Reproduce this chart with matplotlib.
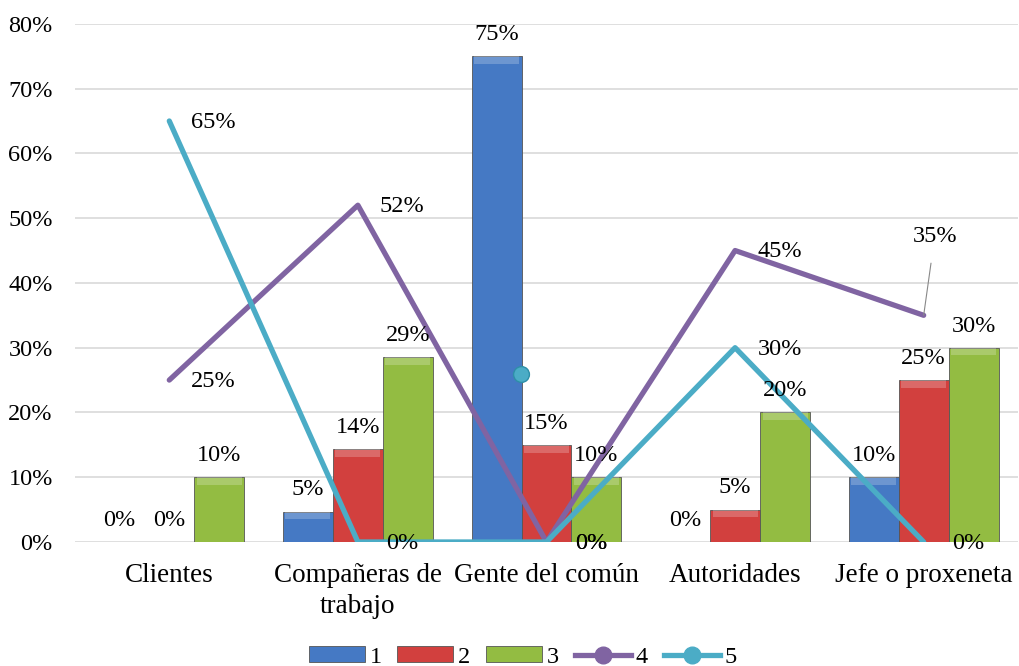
import matplotlib
matplotlib.use('Agg')
import matplotlib.pyplot as plt
from matplotlib.lines import Line2D
from matplotlib.patches import Patch

plt.rcParams['font.family'] = ['Liberation Serif', 'DejaVu Serif']

categories = ['Clientes', 'Compañeras de\ntrabajo', 'Gente del común', 'Autoridades', 'Jefe o proxeneta']
s1 = [0, 4.7, 75, 0, 10]
s2 = [0, 14.3, 15, 5, 25]
s3 = [10, 28.6, 10, 20, 30]
s4 = [25, 52, 0, 45, 35]
s5 = [65, 0, 0, 30, 0]
labels1 = ['0%', '5%', '75%', '0%', '10%']
labels2 = ['0%', '14%', '15%', '5%', '25%']
labels3 = ['10%', '29%', '10%', '20%', '30%']
labels4 = ['25%', '52%', '0%', '45%', '35%']
labels5 = ['65%', '0%', '0%', '30%', '0%']
# lone marker of series 5 that sits inside the "Gente del común" group
stray_x = [1.865]
stray_y = [26]

bar_colors = ['#4579C4', '#D2403E', '#93BC42']
line_colors = ['#8064A2', '#4BACC6']
fs = 17.5

fig = plt.figure(figsize=(10.19, 6.66), dpi=100)
ax = fig.add_axes([0.0736, 0.1862, 0.9254, 0.778])

x = list(range(len(categories)))
w = 0.265
for k, (vals, col, labs) in enumerate(zip([s1, s2, s3], bar_colors, [labels1, labels2, labels3])):
    off = (k - 1) * w
    xs = [i + off for i in x]
    ax.bar(xs, vals, width=w, color=col, edgecolor='#555555', linewidth=0.6, zorder=2)
    # bevel highlight on top
    for xi, v in zip(xs, vals):
        if v > 0:
            ax.bar(xi, min(1.2, v * 0.3), bottom=v - min(1.2, v * 0.3), width=w * 0.9,
                   color='white', alpha=0.22, linewidth=0, zorder=2.1)
    for xi, v, lab in zip(xs, vals, labs):
        ax.annotate(lab, (xi, v), xytext=(0, 8), textcoords='offset points',
                    ha='center', va='bottom', fontsize=fs, zorder=5)

ax.plot(x, s4, color=line_colors[0], lw=3.8, zorder=3, solid_capstyle='round')
ax.plot(x, s5, color=line_colors[1], lw=3.8, zorder=3.1, solid_capstyle='round')
ax.scatter(stray_x, stray_y, s=130, color=line_colors[1], edgecolor='#2E8FA8', zorder=4)

for xi, v, lab in zip(x, s4, labels4):
    if lab == '35%':
        ax.annotate(lab, (xi, v), xytext=(8, 57), textcoords='offset points',
                    ha='center', va='center', fontsize=fs,
                    arrowprops=dict(arrowstyle='-', color='#888888', lw=0.8, shrinkA=10, shrinkB=0))
    else:
        ax.annotate(lab, (xi, v), xytext=(32, -1), textcoords='offset points',
                    ha='center', va='center', fontsize=fs, zorder=5)
for xi, v, lab in zip(x, s5, labels5):
    ax.annotate(lab, (xi, v), xytext=(32, -1), textcoords='offset points',
                ha='center', va='center', fontsize=fs, zorder=5)

ax.set_xlim(-0.5, 4.5)
ax.set_ylim(0, 80)
ax.set_yticks(range(0, 81, 10))
ax.set_yticklabels([f'{t}%' for t in range(0, 81, 10)], fontsize=fs)
ax.set_xticks(x)
ax.set_xticklabels(categories, fontsize=19.5, linespacing=1.35)
ax.tick_params(length=0)
ax.tick_params(axis='y', pad=16)
ax.tick_params(axis='x', pad=15)
ax.grid(axis='y', color='#D9D9D9', lw=1.2, zorder=0)
ax.set_axisbelow(True)
for sp in ax.spines.values():
    sp.set_visible(False)

handles = [Patch(facecolor=c, edgecolor='#555555', lw=0.6) for c in bar_colors]
handles += [Line2D([], [], color=c, lw=3.8, marker='o', markersize=12,
                   markerfacecolor=c, markeredgecolor=c) for c in line_colors]
fig.legend(handles, ['1', '2', '3', '4', '5'], loc='center', bbox_to_anchor=(0.513, 0.0135),
           ncol=5, frameon=False, fontsize=fs, handlelength=2.3, handletextpad=0.2,
           columnspacing=0.65, handleheight=0.6, borderpad=0)

fig.savefig('out.png', dpi=100)
